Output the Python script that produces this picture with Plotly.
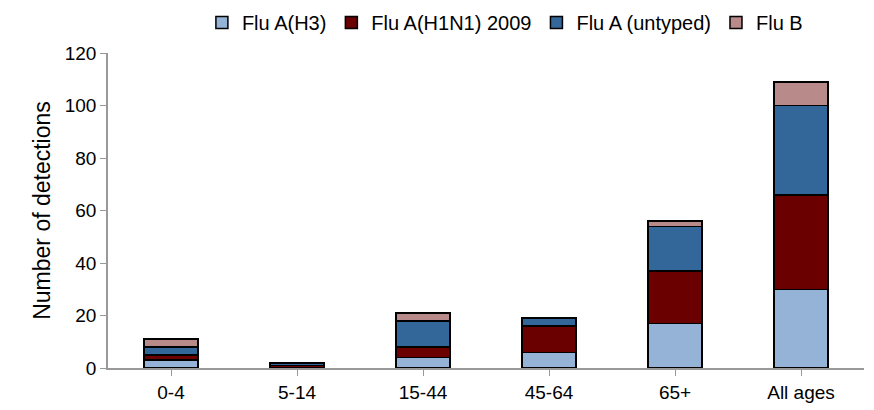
import plotly.graph_objects as go

categories = ["0-4", "5-14", "15-44", "45-64", "65+", "All ages"]
h3 = [3, 0, 4, 6, 17, 30]
h1n1 = [2, 1, 4, 10, 20, 36]
untyped = [3, 1, 10, 3, 17, 34]
flub = [3, 0, 3, 0, 2, 9]

series = [("Flu A(H3)", h3, "#95B3D7"), ("Flu A(H1N1) 2009", h1n1, "#6B0000"),
          ("Flu A (untyped)", untyped, "#336699"), ("Flu B", flub, "#B88A8A")]

fig = go.Figure()
for name, vals, col in series:
    fig.add_bar(x=categories, y=vals, name=name, marker=dict(color=col, line=dict(color="black", width=1.5)))

fig.update_layout(
    barmode="stack", bargap=0.57, width=874, height=410,
    paper_bgcolor="white", plot_bgcolor="white",
    font=dict(family="Liberation Sans, Arial", size=19, color="black"),
    margin=dict(l=100, r=18, t=45, b=50, autoexpand=False),
    legend=dict(orientation="h", x=0.525, xanchor="center", y=1.035, yanchor="bottom",
                font=dict(size=20), traceorder="normal", itemwidth=30, tracegroupgap=0),
    xaxis=dict(showline=True, linecolor="#999", linewidth=1.5, ticks="outside", tickcolor="#999", ticklen=6),
    yaxis=dict(range=[0, 120], dtick=20, showline=True, linecolor="#999", linewidth=1.5, ticks="outside",
               tickcolor="#999", ticklen=6, showgrid=False, zeroline=False,
               title=dict(text="Number of detections", standoff=8)),
)
fig.write_html("out.html")
